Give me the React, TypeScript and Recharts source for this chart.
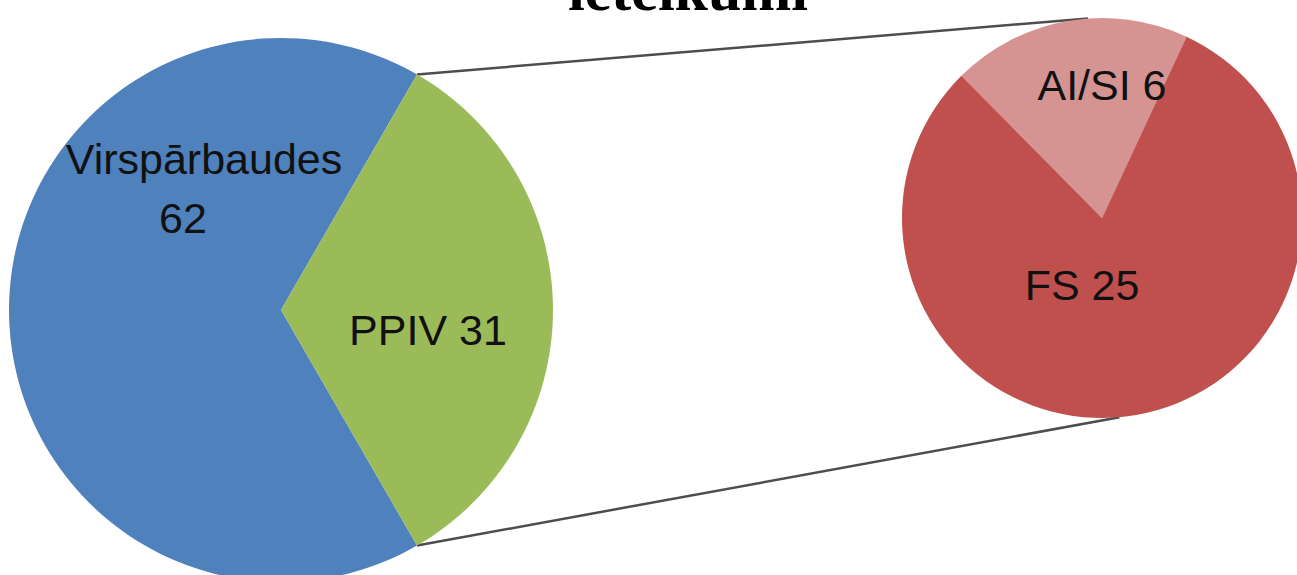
import React from 'react';
import { PieChart, Pie, Cell, Customized } from 'recharts';

// ---- data ----
const mainCategories = ['Virspārbaudes', 'PPIV'];
const mainValues = [62, 31];
const subCategories = ['AI/SI', 'FS'];
const subValues = [6, 25];
const titleText = 'ieteikumi';

const mainData = mainCategories.map((name, i) => ({ name, value: mainValues[i] }));
const subData = subCategories.map((name, i) => ({ name, value: subValues[i] }));

// ---- styles / layout ----
const MAIN_COLORS = ['#4F81BD', '#9BBB59'];
const SUB_COLORS = ['#D59391', '#C0504D'];
const W = 1297;
const H = 575;
const MAIN = { cx: 281, cy: 310, r: 272 };
const SUB = { cx: 1102, cy: 218, r: 200 };
const SUB_START = 65;
const SUB_TOP_ANGLE = 94;
const SUB_BOTTOM_ANGLE = -85;
const LABEL_FONT = '"Liberation Sans", Arial, sans-serif';
const LABEL_SIZE = 43;

const mainTotal = mainValues.reduce((a, b) => a + b, 0);
const splitFrac = mainValues[1] / mainTotal;
const MAIN_START = splitFrac * 180;

const rad = (d: number) => (d * Math.PI) / 180;

// label offsets relative to pie centre (lines per slice)
const MAIN_LABEL_LINES = [
  [{ dx: -77, dy: -136, part: 'name' }, { dx: -98, dy: -77, part: 'value' }],
  [{ dx: 147, dy: 35, part: 'both' }],
];
const SUB_LABEL_LINES = [
  [{ dx: 0, dy: -118, part: 'both' }],
  [{ dx: -20, dy: 82, part: 'both' }],
];

const makeLabel = (lines: any[]) => (props: any) => {
  const { cx, cy, index, name, value } = props;
  const spec = lines[index] || [];
  return (
    <g>
      {spec.map((l: any, k: number) => (
        <text
          key={k}
          x={cx + l.dx}
          y={cy + l.dy}
          textAnchor="middle"
          fontFamily={LABEL_FONT}
          fontSize={LABEL_SIZE}
          fill="#111"
        >
          {l.part === 'name' ? name : l.part === 'value' ? String(value) : `${name} ${value}`}
        </text>
      ))}
    </g>
  );
};

const Connectors = () => {
  const a = rad(MAIN_START);
  const x1 = MAIN.cx + MAIN.r * Math.cos(a);
  const yTop = MAIN.cy - MAIN.r * Math.sin(a);
  const yBot = MAIN.cy + MAIN.r * Math.sin(a);
  const t = rad(SUB_TOP_ANGLE);
  const b = rad(SUB_BOTTOM_ANGLE);
  const tx = SUB.cx + SUB.r * Math.cos(t);
  const ty = SUB.cy - SUB.r * Math.sin(t);
  const bx = SUB.cx + SUB.r * Math.cos(b);
  const by = SUB.cy - SUB.r * Math.sin(b);
  return (
    <g>
      <line x1={x1} y1={yTop} x2={tx} y2={ty} stroke="#4d4d4d" strokeWidth={2.5} />
      <line x1={x1} y1={yBot} x2={bx} y2={by} stroke="#4d4d4d" strokeWidth={2.5} />
      <text
        x={688}
        y={10}
        textAnchor="middle"
        fontFamily='"Liberation Serif", "Times New Roman", serif'
        fontWeight="bold"
        fontSize={60}
        fill="#000"
      >
        {titleText}
      </text>
    </g>
  );
};

export default function App() {
  return (
    <div style={{ position: 'absolute', left: 0, top: 0, width: W, height: H, overflow: 'hidden', background: '#fff' }}>
      <PieChart width={W} height={H} margin={{ top: 0, right: 0, bottom: 0, left: 0 }}>
        <Customized component={Connectors} />
        <Pie
          data={mainData}
          dataKey="value"
          nameKey="name"
          cx={MAIN.cx}
          cy={MAIN.cy}
          outerRadius={MAIN.r}
          startAngle={MAIN_START}
          endAngle={MAIN_START + 360}
          stroke="none"
          isAnimationActive={false}
          labelLine={false}
          label={makeLabel(MAIN_LABEL_LINES)}
        >
          {mainData.map((d, i) => (
            <Cell key={d.name} fill={MAIN_COLORS[i]} />
          ))}
        </Pie>
        <Pie
          data={subData}
          dataKey="value"
          nameKey="name"
          cx={SUB.cx}
          cy={SUB.cy}
          outerRadius={SUB.r}
          startAngle={SUB_START}
          endAngle={SUB_START + 360}
          stroke="none"
          isAnimationActive={false}
          labelLine={false}
          label={makeLabel(SUB_LABEL_LINES)}
        >
          {subData.map((d, i) => (
            <Cell key={d.name} fill={SUB_COLORS[i]} />
          ))}
        </Pie>
      </PieChart>
    </div>
  );
}
